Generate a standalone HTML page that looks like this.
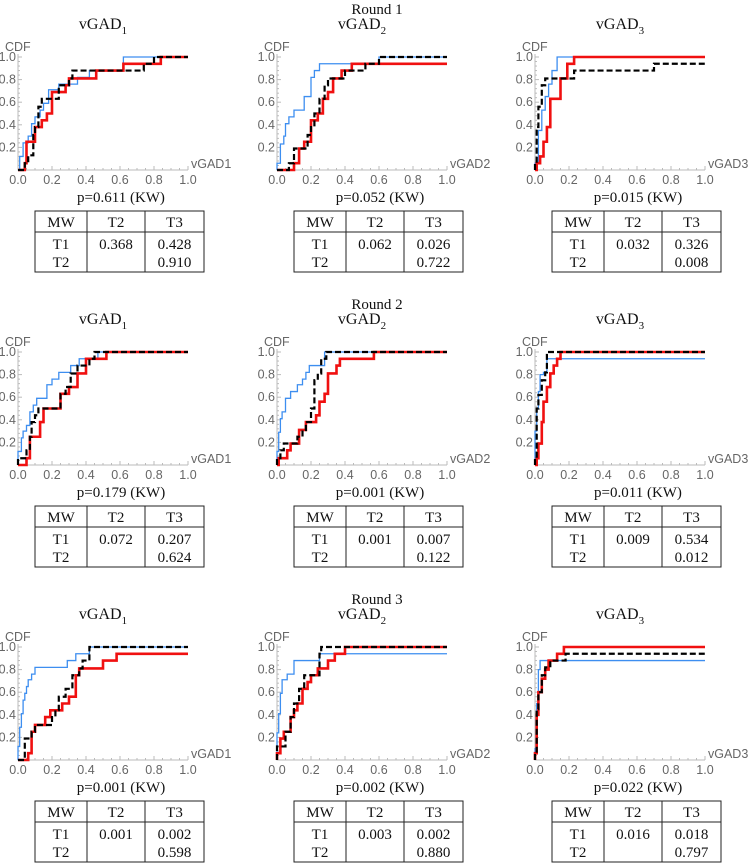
<!DOCTYPE html>
<html><head><meta charset="utf-8"><style>
body{margin:0;background:#fff;width:755px;height:864px;overflow:hidden}
svg{display:block}
.serif{font-family:"Liberation Serif",serif;fill:#111}
.tick{font-family:"Liberation Sans",sans-serif;font-size:12.5px;fill:#666}
</style></head><body>
<svg id="fig" width="755" height="864" viewBox="0 0 755 864" xmlns="http://www.w3.org/2000/svg"></svg>
<script>
// ---- data: step CDFs (x = jump location, y = CDF level after jump) ----
const r1g1BlueX=[0.01,0.03,0.06,0.08,0.1,0.13,0.15,0.18,0.24,0.35,0.42,0.62];
const r1g1BlueY=[0.12,0.24,0.3,0.41,0.47,0.53,0.59,0.71,0.76,0.82,0.88,1.0];
const r1g1RedX=[0.04,0.05,0.1,0.14,0.17,0.2,0.28,0.3,0.46,0.62,0.84];
const r1g1RedY=[0.06,0.25,0.38,0.44,0.5,0.69,0.75,0.81,0.88,0.94,1.0];
const r1g1BlackX=[0.04,0.06,0.09,0.1,0.12,0.14,0.24,0.3,0.32,0.74,0.8];
const r1g1BlackY=[0.06,0.13,0.31,0.38,0.56,0.63,0.75,0.81,0.88,0.94,1.0];

const r1g2BlueX=[0.0,0.02,0.04,0.05,0.07,0.1,0.16,0.2,0.22,0.25,0.6];
const r1g2BlueY=[0.06,0.23,0.3,0.41,0.47,0.53,0.65,0.82,0.88,0.94,1.0];
const r1g2RedX=[0.1,0.13,0.16,0.2,0.24,0.27,0.3,0.33,0.38,0.44];
const r1g2RedY=[0.06,0.19,0.25,0.44,0.5,0.63,0.69,0.81,0.88,0.94];
const r1g2BlackX=[0.07,0.1,0.18,0.2,0.22,0.25,0.28,0.3,0.4,0.52,0.6];
const r1g2BlackY=[0.06,0.19,0.31,0.38,0.5,0.63,0.75,0.81,0.88,0.94,1.0];

const r1g3BlueX=[0.0,0.02,0.04,0.06,0.08,0.1,0.13];
const r1g3BlueY=[0.06,0.35,0.53,0.65,0.76,0.88,1.0];
const r1g3RedX=[0.01,0.03,0.05,0.07,0.09,0.15,0.19,0.23];
const r1g3RedY=[0.06,0.12,0.25,0.38,0.63,0.81,0.94,1.0];
const r1g3BlackX=[0.0,0.01,0.02,0.04,0.06,0.23,0.7];
const r1g3BlackY=[0.06,0.38,0.56,0.75,0.81,0.88,0.94];

const r2g1BlueX=[0.0,0.02,0.03,0.05,0.07,0.09,0.11,0.17,0.2,0.24,0.31,0.36,0.47];
const r2g1BlueY=[0.12,0.24,0.3,0.35,0.47,0.53,0.59,0.71,0.76,0.82,0.88,0.94,1.0];
const r2g1RedX=[0.05,0.07,0.13,0.15,0.25,0.3,0.35,0.4,0.52];
const r2g1RedY=[0.06,0.25,0.38,0.5,0.63,0.69,0.81,0.94,1.0];
const r2g1BlackX=[0.0,0.05,0.07,0.08,0.1,0.12,0.25,0.28,0.31,0.35,0.42,0.45];
const r2g1BlackY=[0.06,0.13,0.25,0.38,0.44,0.5,0.63,0.69,0.81,0.88,0.94,1.0];

const r2g2BlueX=[0.0,0.01,0.02,0.03,0.05,0.08,0.12,0.15,0.17,0.19,0.28];
const r2g2BlueY=[0.12,0.29,0.41,0.47,0.59,0.65,0.71,0.76,0.82,0.88,1.0];
const r2g2RedX=[0.01,0.03,0.06,0.08,0.13,0.17,0.23,0.25,0.28,0.3,0.35,0.37,0.57];
const r2g2RedY=[0.06,0.06,0.13,0.19,0.31,0.38,0.44,0.56,0.63,0.81,0.88,0.94,1.0];
const r2g2BlackX=[0.0,0.02,0.04,0.12,0.15,0.17,0.2,0.22,0.24,0.26,0.29];
const r2g2BlackY=[0.06,0.13,0.19,0.25,0.31,0.38,0.5,0.75,0.81,0.94,1.0];

const r2g3BlueX=[0.0,0.01,0.02,0.03,0.05,0.07];
const r2g3BlueY=[0.3,0.5,0.65,0.8,0.82,0.94];
const r2g3RedX=[0.01,0.02,0.04,0.05,0.07,0.09,0.11,0.13,0.15];
const r2g3RedY=[0.06,0.19,0.38,0.56,0.69,0.81,0.88,0.94,1.0];
const r2g3BlackX=[0.0,0.01,0.02,0.04,0.06,0.07];
const r2g3BlackY=[0.06,0.5,0.62,0.75,0.82,1.0];

const r3g1BlueX=[0.0,0.01,0.02,0.03,0.04,0.05,0.06,0.08,0.1,0.29,0.34,0.42];
const r3g1BlueY=[0.12,0.29,0.41,0.53,0.59,0.65,0.71,0.76,0.82,0.88,0.94,1.0];
const r3g1RedX=[0.06,0.08,0.1,0.16,0.19,0.26,0.3,0.34,0.36,0.5,0.58];
const r3g1RedY=[0.06,0.25,0.31,0.38,0.44,0.5,0.56,0.75,0.81,0.88,0.94];
const r3g1BlackX=[0.04,0.08,0.1,0.2,0.22,0.24,0.28,0.32,0.36,0.38,0.42];
const r3g1BlackY=[0.19,0.25,0.31,0.38,0.44,0.56,0.63,0.75,0.81,0.88,1.0];

const r3g2BlueX=[0.0,0.01,0.02,0.03,0.06,0.1,0.25];
const r3g2BlueY=[0.24,0.41,0.59,0.71,0.76,0.88,0.94];
const r3g2RedX=[0.0,0.02,0.04,0.08,0.1,0.12,0.15,0.18,0.2,0.24,0.3,0.34,0.4];
const r3g2RedY=[0.06,0.19,0.25,0.38,0.44,0.5,0.63,0.69,0.75,0.81,0.88,0.94,1.0];
const r3g2BlackX=[0.0,0.05,0.08,0.1,0.13,0.16,0.25,0.26];
const r3g2BlackY=[0.12,0.25,0.38,0.5,0.63,0.75,0.94,1.0];

const r3g3BlueX=[0.0,0.01,0.02,0.03];
const r3g3BlueY=[0.1,0.5,0.8,0.88];
const r3g3RedX=[0.0,0.01,0.02,0.04,0.06,0.08,0.13,0.17];
const r3g3RedY=[0.06,0.4,0.6,0.72,0.8,0.88,0.94,1.0];
const r3g3BlackX=[0.0,0.01,0.02,0.04,0.06,0.09,0.18];
const r3g3BlackY=[0.06,0.45,0.6,0.75,0.82,0.88,0.94];

const roundTitles=["Round 1","Round 2","Round 3"];
const groupNames=["vGAD1","vGAD2","vGAD3"];
const kwValues=["0.611","0.052","0.015","0.179","0.001","0.011","0.001","0.002","0.022"];
const mwT1T2=["0.368","0.062","0.032","0.072","0.001","0.009","0.001","0.003","0.016"];
const mwT1T3=["0.428","0.026","0.326","0.207","0.007","0.534","0.002","0.002","0.018"];
const mwT2T3=["0.910","0.722","0.008","0.624","0.122","0.012","0.598","0.880","0.797"];
const xTicks=[0,0.2,0.4,0.6,0.8,1.0];
const xTickLabels=["0.0","0.2","0.4","0.6","0.8","1.0"];
const yTicks=[0.2,0.4,0.6,0.8,1.0];
const yTickLabels=["0.2","0.4","0.6","0.8","1.0"];

const series=[
 [[r1g1BlueX,r1g1BlueY],[r1g1RedX,r1g1RedY],[r1g1BlackX,r1g1BlackY]],
 [[r1g2BlueX,r1g2BlueY],[r1g2RedX,r1g2RedY],[r1g2BlackX,r1g2BlackY]],
 [[r1g3BlueX,r1g3BlueY],[r1g3RedX,r1g3RedY],[r1g3BlackX,r1g3BlackY]],
 [[r2g1BlueX,r2g1BlueY],[r2g1RedX,r2g1RedY],[r2g1BlackX,r2g1BlackY]],
 [[r2g2BlueX,r2g2BlueY],[r2g2RedX,r2g2RedY],[r2g2BlackX,r2g2BlackY]],
 [[r2g3BlueX,r2g3BlueY],[r2g3RedX,r2g3RedY],[r2g3BlackX,r2g3BlackY]],
 [[r3g1BlueX,r3g1BlueY],[r3g1RedX,r3g1RedY],[r3g1BlackX,r3g1BlackY]],
 [[r3g2BlueX,r3g2BlueY],[r3g2RedX,r3g2RedY],[r3g2BlackX,r3g2BlackY]],
 [[r3g3BlueX,r3g3BlueY],[r3g3RedX,r3g3RedY],[r3g3BlackX,r3g3BlackY]]
];
const seriesNames=["t1-curve","t2-curve","t3-curve"];
const styles=[{c:"#3d8ef0",w:1.3,d:""},{c:"#f01010",w:2.6,d:""},{c:"#000",w:2.2,d:"6,3"}];

const NS="http://www.w3.org/2000/svg";
const svg=document.getElementById('fig');
function mk(tag,attrs,parent){const e=document.createElementNS(NS,tag);for(const k in attrs)e.setAttribute(k,attrs[k]);(parent||svg).appendChild(e);return e;}

const originsX=[18,277,535], W=170, H=113, rowOrigin=[170,465,760];

for(let r=0;r<3;r++){
  const rt=mk('text',{x:377,y:rowOrigin[r]-156,'text-anchor':'middle','font-size':15,class:'serif'});
  rt.textContent=roundTitles[r];
  
  
  for(let c=0;c<3;c++){
    const idx=r*3+c, ox=originsX[c], oy=rowOrigin[r];
    const sx=v=>ox+v*W, sy=v=>oy-v*H;
    const g=mk('g',{});
    
    
    const t=mk('text',{x:ox+85,y:oy-141,'text-anchor':'middle','font-size':16,class:'serif'},g);
    
    
    t.appendChild(document.createTextNode('vGAD'));
    const sub=mk('tspan',{'font-size':11,dy:5},t); sub.textContent=String(c+1);
    const ax=mk('path',{d:`M${ox},${oy-H-3}V${oy}H${ox+W}`,stroke:'#bbb','stroke-width':1,fill:'none'},g);
    
    
    for(let i=0;i<=20;i++){const x=ox+i*W/20;mk('line',{x1:x,x2:x,y1:oy,y2:oy-(i%4==0?4:2),stroke:'#bbb'},g);}
    for(let i=0;i<=25;i++){const y=oy-i*H/25;if(y<oy-H-1)break;mk('line',{x1:ox,x2:ox+(i%5==0?4:2),y1:y,y2:y,stroke:'#bbb'},g);}
    xTicks.forEach((v,i)=>{const tl=mk('text',{x:sx(v),y:oy+14,'text-anchor':'middle',class:'tick'},g);tl.textContent=xTickLabels[i];
      });
    yTicks.forEach((v,i)=>{const tl=mk('text',{x:ox-2,y:sy(v)+4,'text-anchor':'end',class:'tick'},g);tl.textContent=yTickLabels[i];
      });
    const yl=mk('text',{x:ox-13,y:oy-H-6,class:'tick'},g);yl.textContent='CDF';
    
    const xl=mk('text',{x:ox+W+3,y:oy-2,class:'tick'},g);xl.textContent=groupNames[c];
    
    series[idx].forEach((s,k)=>{
      const xs=s[0], ys=s[1];
      let d=`M${sx(0)},${sy(0)}`;
      for(let i=0;i<xs.length;i++){d+=`H${sx(xs[i])}V${sy(ys[i])}`;}
      d+=`H${sx(1)}`;
      const p=mk('path',{d:d,fill:'none',stroke:styles[k].c,'stroke-width':styles[k].w,'stroke-dasharray':styles[k].d},g);
      
      
    });
    const pv=mk('text',{x:ox+103,y:oy+32,'text-anchor':'middle','font-size':15,class:'serif'},g);
    pv.textContent='p='+kwValues[idx]+' (KW)';
    
    const tx=ox+17, ty=oy+41, c1=52, c2=58, c3=59;
    const tb=mk('g',{},g);
    
    mk('rect',{x:tx,y:ty,width:c1+c2+c3,height:61,fill:'none',stroke:'#222','stroke-width':1},tb);
    mk('line',{x1:tx,x2:tx+c1+c2+c3,y1:ty+21,y2:ty+21,stroke:'#222'},tb);
    mk('line',{x1:tx+c1,x2:tx+c1,y1:ty,y2:ty+61,stroke:'#222'},tb);
    mk('line',{x1:tx+c1+c2,x2:tx+c1+c2,y1:ty,y2:ty+61,stroke:'#222'},tb);
    const cx=[tx+c1/2,tx+c1+c2/2,tx+c1+c2+c3/2];
    const cells=[["MW","T2","T3",16],["T1",mwT1T2[idx],mwT1T3[idx],38],["T2","",mwT2T3[idx],56]];
    cells.forEach(row=>{for(let j=0;j<3;j++){if(!row[j])continue;const ct=mk('text',{x:cx[j],y:ty+row[3],'text-anchor':'middle','font-size':15,class:'serif'},tb);ct.textContent=row[j];
      }});
  }
}
</script>
</body></html>
